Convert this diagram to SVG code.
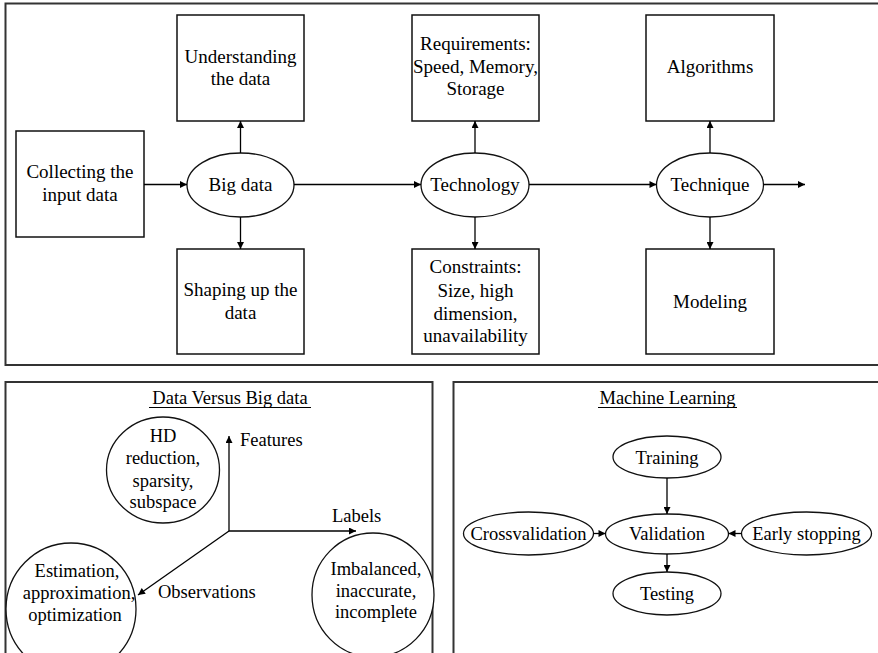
<svg xmlns="http://www.w3.org/2000/svg" width="878" height="653" viewBox="0 0 878 653">
<defs>
<marker id="ah" viewBox="0 0 10 10" refX="10" refY="5" markerWidth="9" markerHeight="7" markerUnits="userSpaceOnUse" orient="auto">
<path d="M0,0 L10,5 L0,10 z" fill="#000"/>
</marker>
</defs>
<style>
.panel{fill:none;stroke:#333;stroke-width:2}
.box{fill:#fff;stroke:#111;stroke-width:1.5}
.ell{fill:#fff;stroke:#111;stroke-width:1.3}
.t{font-family:"Liberation Serif","DejaVu Serif","Times New Roman",serif;font-size:18.5px;fill:#000;text-anchor:middle}
.tb{font-size:19px}
.tl{font-family:"Liberation Serif","DejaVu Serif","Times New Roman",serif;font-size:18.5px;fill:#000}
.c line{stroke:#000;stroke-width:1.3;fill:none;marker-end:url(#ah)}
.u{stroke:#000;stroke-width:1.2}
</style>
<rect width="878" height="653" fill="#fff"/>
<g id="panels">
<rect class="panel" x="5.5" y="3.5" width="876" height="361.5"/>
<rect class="panel" x="5.5" y="382" width="427" height="280"/>
<rect class="panel" x="453.5" y="382" width="430" height="280"/>
</g>
<g id="collecting"><rect class="box" x="16" y="131" width="128" height="106"/><text class="t tb" x="80" y="178">Collecting the</text><text class="t tb" x="80" y="201">input data</text></g>
<g id="understanding"><rect class="box" x="177" y="15" width="127" height="106"/><text class="t tb" x="240.5" y="63">Understanding</text><text class="t tb" x="240.5" y="85">the data</text></g>
<g id="shaping"><rect class="box" x="177" y="249" width="127" height="105"/><text class="t tb" x="240.5" y="296">Shaping up the</text><text class="t tb" x="240.5" y="319">data</text></g>
<g id="bigdata"><ellipse class="ell" cx="240.5" cy="185" rx="53.5" ry="32"/><text class="t tb" x="240.5" y="191">Big data</text></g>
<g id="requirements"><rect class="box" x="412" y="15" width="127" height="106"/><text class="t tb" x="475.5" y="50">Requirements:</text><text class="t tb" x="475.5" y="73">Speed, Memory,</text><text class="t tb" x="475.5" y="95">Storage</text></g>
<g id="constraints"><rect class="box" x="412" y="249" width="127" height="105"/><text class="t tb" x="475.5" y="273">Constraints:</text><text class="t tb" x="475.5" y="297">Size, high</text><text class="t tb" x="475.5" y="320">dimension,</text><text class="t tb" x="475.5" y="342">unavailability</text></g>
<g id="technology"><ellipse class="ell" cx="475" cy="185" rx="54" ry="32"/><text class="t tb" x="475" y="191">Technology</text></g>
<g id="algorithms"><rect class="box" x="646" y="15" width="128" height="106"/><text class="t tb" x="710" y="73">Algorithms</text></g>
<g id="modeling"><rect class="box" x="646" y="249" width="128" height="105"/><text class="t tb" x="710" y="308">Modeling</text></g>
<g id="technique"><ellipse class="ell" cx="710" cy="185" rx="53.5" ry="32"/><text class="t tb" x="710" y="191">Technique</text></g>
<g id="dvb-title"><text class="t" x="230" y="404">Data Versus Big data</text><line class="u" x1="149" y1="407.5" x2="311" y2="407.5"/></g>
<g id="hd"><ellipse class="ell" cx="163" cy="470" rx="56.5" ry="53"/><text class="t" x="163" y="442">HD</text><text class="t" x="163" y="464">reduction,</text><text class="t" x="163" y="487">sparsity,</text><text class="t" x="163" y="508">subspace</text></g>
<g id="estimation"><ellipse class="ell" cx="71" cy="609" rx="65" ry="66"/><text class="t" x="77" y="577">Estimation,</text><text class="t" x="79" y="599">approximation,</text><text class="t" x="75" y="621">optimization</text></g>
<g id="imbalanced"><ellipse class="ell" cx="373" cy="595" rx="61" ry="62"/><text class="t" x="376" y="575">Imbalanced,</text><text class="t" x="376" y="597">inaccurate,</text><text class="t" x="376" y="618">incomplete</text></g>
<g id="axis-labels"><text class="tl" x="240" y="446">Features</text><text class="tl" x="332" y="522">Labels</text><text class="tl" x="158" y="598">Observations</text></g>
<g id="ml-title"><text class="t" x="667.5" y="404">Machine Learning</text><line class="u" x1="598" y1="407.5" x2="737" y2="407.5"/></g>
<g id="training"><ellipse class="ell" cx="667" cy="457" rx="54" ry="21"/><text class="t" x="667" y="464">Training</text></g>
<g id="validation"><ellipse class="ell" cx="667" cy="534" rx="61.5" ry="20"/><text class="t" x="667" y="540">Validation</text></g>
<g id="testing"><ellipse class="ell" cx="667" cy="593.5" rx="54" ry="21.5"/><text class="t" x="667" y="600">Testing</text></g>
<g id="crossvalidation"><ellipse class="ell" cx="528.5" cy="533.5" rx="65" ry="21.5"/><text class="t" x="528.5" y="540">Crossvalidation</text></g>
<g id="earlystopping"><ellipse class="ell" cx="806.5" cy="533.5" rx="65" ry="21.5"/><text class="t" x="806.5" y="540">Early stopping</text></g>
<g id="connectors" class="c">
<line x1="144" y1="184.5" x2="187" y2="184.5"/>
<line x1="240.5" y1="153" x2="240.5" y2="121"/>
<line x1="240.5" y1="217" x2="240.5" y2="249"/>
<line x1="294" y1="184.5" x2="421" y2="184.5"/>
<line x1="475" y1="153" x2="475" y2="121"/>
<line x1="475" y1="217" x2="475" y2="249"/>
<line x1="529" y1="184.5" x2="656.5" y2="184.5"/>
<line x1="710" y1="153" x2="710" y2="121"/>
<line x1="710" y1="217" x2="710" y2="249"/>
<line x1="763.5" y1="184.5" x2="805" y2="184.5"/>
<line x1="229" y1="531" x2="229" y2="436"/>
<line x1="229" y1="531" x2="356" y2="531"/>
<line x1="229" y1="531" x2="138" y2="595"/>
<line x1="667" y1="478" x2="667" y2="514"/>
<line x1="667" y1="554" x2="667" y2="572"/>
<line x1="593.5" y1="533.5" x2="605.5" y2="533.5"/>
<line x1="741.5" y1="533.5" x2="728.5" y2="533.5"/>
</g>
</svg>
